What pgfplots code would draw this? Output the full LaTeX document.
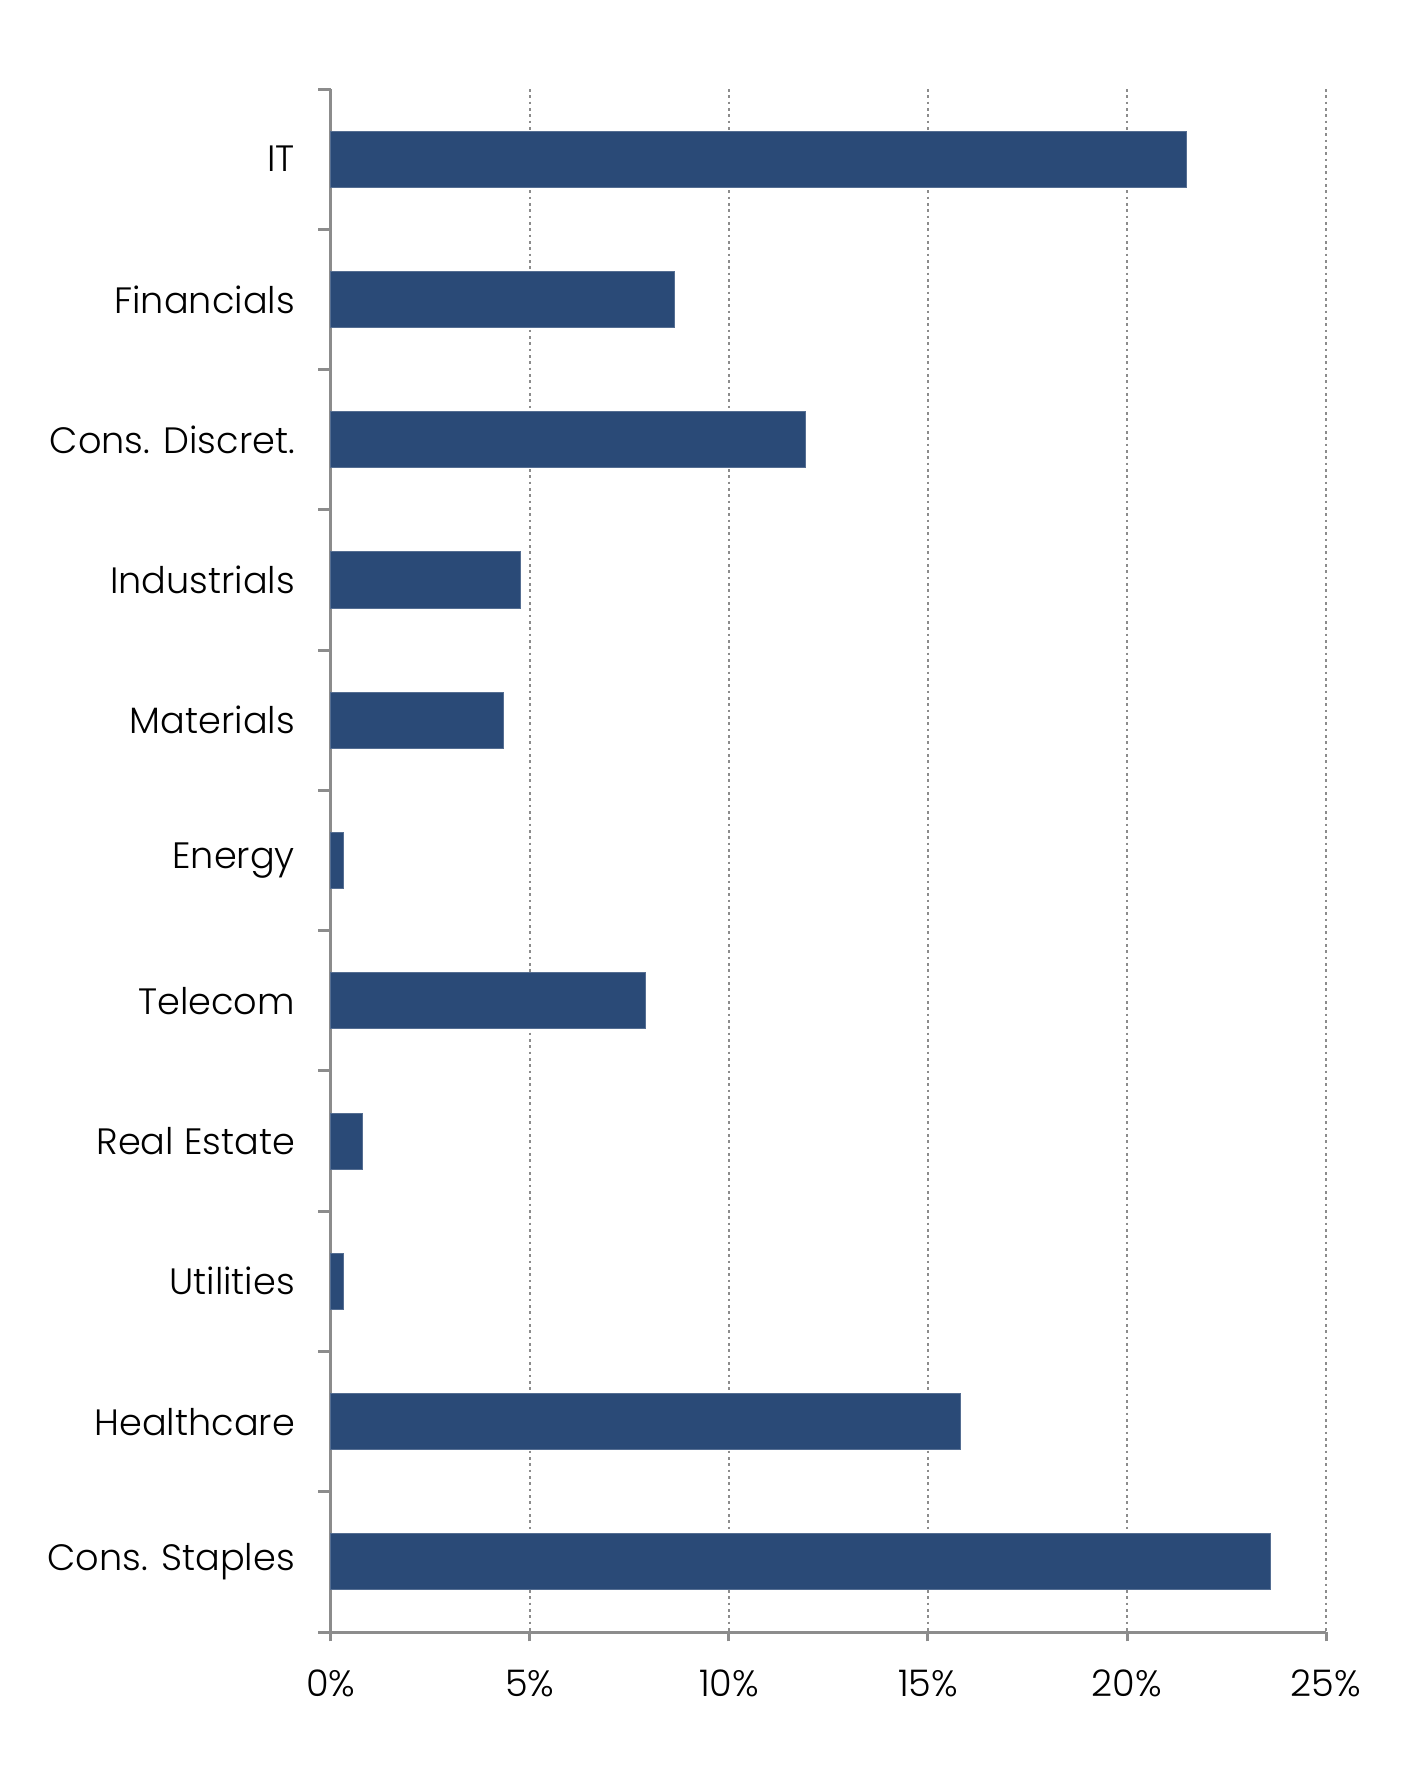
\documentclass[border=0pt]{standalone}
\usepackage{fontspec}
\setmainfont{Poppins Light}
\usepackage{pgfplots}
\pgfplotsset{compat=1.18}
\definecolor{barblue}{HTML}{2A4A77}
\definecolor{axisgray}{HTML}{8C8C8C}

\pgfplotstableread[col sep=comma]{
idx,value
0,21.50
1,8.64
2,11.91
3,4.76
4,4.33
5,0.32
6,7.89
7,0.80
8,0.32
9,15.81
10,23.61
}\sectors

\begin{document}
\begin{tikzpicture}
\begin{axis}[
  at={(0,0)}, anchor=south west,
  scale only axis,
  width=298.5pt, height=462.9pt,
  xbar, bar width=0.4,
  xmin=0, xmax=25,
  ymin=-0.5, ymax=10.5,
  y dir=reverse,
  axis x line=bottom, axis y line=left,
  axis line style={axisgray, line width=0.9pt, -},
  xtick={0,5,...,25},
  xticklabel={\pgfmathprintnumber{\tick}\%},
  xticklabel style={yshift=-5pt},
  /pgf/number format/assume math mode=true,
  ytick={0,...,10},
  yticklabels={IT,Financials,Cons. Discret.,Industrials,Materials,Energy,Telecom,Real Estate,Utilities,Healthcare,Cons. Staples},
  yticklabel style={xshift=-4.5pt},
  major y tick style={draw=none},
  minor ytick={-0.5,0.5,...,10.5},
  minor y tick style={axisgray, line width=0.9pt},
  major x tick style={axisgray, line width=0.9pt},
  tick align=outside,
  major tick length=2.8pt,
  minor tick length=3.8pt,
  xmajorgrids,
  major x grid style={axisgray, line width=0.8pt, dash pattern=on 0.8pt off 1.1pt},
  tick label style={font=\fontsize{11}{13}\selectfont, text=black},
  clip=false,
]
\addplot[fill=barblue, draw=barblue!80!white, line width=0.3pt] table[x=value, y=idx] {\sectors};
\end{axis}
\path[use as bounding box] (-99.3pt,-43.8pt) rectangle (327.9pt,489.6pt);
\end{tikzpicture}
\end{document}
